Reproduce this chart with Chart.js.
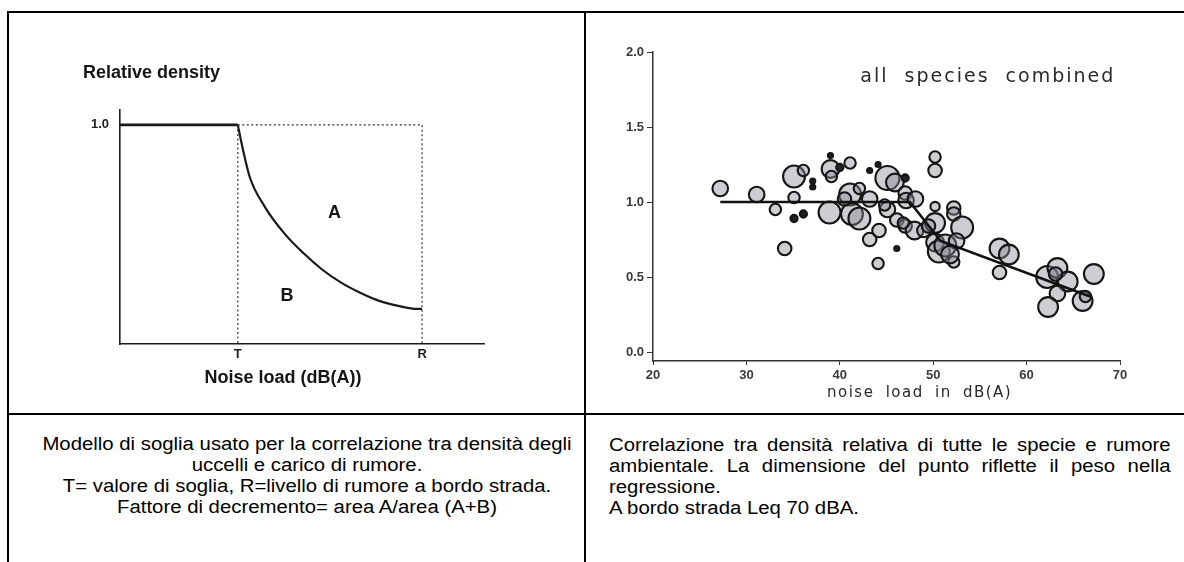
<!DOCTYPE html>
<html>
<head>
<meta charset="utf-8">
<script src="https://cdn.jsdelivr.net/npm/chart.js@4.4.1/dist/chart.umd.min.js"></script>
<style>
  body { margin: 0; background: #fff; width: 1184px; height: 562px; overflow: hidden; position: relative; font-family: Arial, "Liberation Sans", sans-serif; }
  .rule { position: absolute; background: #000; }
  canvas { position: absolute; }
  .caption { position: absolute; font-size: 18px; line-height: 21px; color: #000; }
  #capLeft { left: 69px; top: 434px; width: 476px; text-align: center; transform: scaleX(1.13); transform-origin: center top; }
  #capRight { left: 609px; top: 435px; width: 497px; text-align: justify; transform: scaleX(1.13); transform-origin: left top; }
</style>
</head>
<body>
<div class="rule" style="left:7px;top:11px;width:1177px;height:2px"></div>
<div class="rule" style="left:7px;top:11px;width:2px;height:551px"></div>
<div class="rule" style="left:584px;top:11px;width:2px;height:551px"></div>
<div class="rule" style="left:7px;top:413px;width:1177px;height:2px"></div>

<canvas id="modelChart" width="575" height="399" style="left:9px;top:14px"></canvas>
<canvas id="speciesChart" width="598" height="399" style="left:586px;top:14px"></canvas>

<div class="caption" id="capLeft">Modello di soglia usato per la correlazione tra densità degli uccelli e carico di rumore.<br>T= valore di soglia, R=livello di rumore a bordo strada.<br>Fattore di decremento= area A/area (A+B)</div>
<div class="caption" id="capRight">Correlazione tra densità relativa di tutte le specie e rumore ambientale. La dimensione del punto riflette il peso nella regressione.<br>A bordo strada Leq 70 dBA.</div>

<script>
// threshold model: flat at 1.0 up to T, then decay towards R
var thresholdT = 39;
var roadsideR = 100;
var modelMaxX = 120.5;
var decayNoise = [39, 40.5, 43, 48, 54.4, 60.7, 66.9, 73.2, 79.5, 85.8, 92.1, 98.4, 100];
var decayDensity = [1.0, 0.9, 0.76, 0.625, 0.505, 0.415, 0.34, 0.28, 0.234, 0.197, 0.174, 0.16, 0.16];

// all species combined: noise load (dB(A)), relative density, regression weight
var noiseLoad = [27.2, 31.1, 33.1, 35.1, 35.1, 36.1, 35.1, 36.1, 37.1, 37.1, 34.1, 39.0, 39.0, 39.1, 38.9, 40.0, 41.1,
  41.1, 42.1, 41.3, 42.1, 43.2, 44.1, 43.2, 43.2, 44.2, 44.1, 45.1, 45.9, 45.1, 46.1, 46.1, 47.0, 47.0, 47.1, 48.1,
  47.0, 48.0, 49.0, 50.2, 50.2, 50.2, 50.2, 50.2, 50.6, 51.3, 52.2, 52.2, 53.1, 52.2, 52.5, 57.1, 58.1, 57.1, 62.2,
  63.3, 64.4, 63.3, 62.3, 66.0, 67.2, 63.1, 46.8, 49.5, 51.8, 44.8, 40.5, 66.3];
var relDensity = [1.09, 1.05, 0.95, 1.03, 1.17, 1.21, 0.89, 0.92, 1.14, 1.10, 0.69, 1.31, 1.22, 1.17, 0.93, 1.23, 1.26,
  1.05, 1.09, 0.92, 0.89, 1.21, 1.25, 1.02, 0.75, 0.81, 0.59, 1.16, 1.13, 0.95, 0.69, 0.88, 1.16, 1.06, 1.01, 1.02,
  0.84, 0.81, 0.81, 1.30, 1.21, 0.97, 0.86, 0.73, 0.67, 0.71, 0.96, 0.92, 0.83, 0.60, 0.74, 0.69, 0.65, 0.53, 0.50,
  0.56, 0.47, 0.39, 0.30, 0.34, 0.52, 0.52, 0.86, 0.84, 0.65, 0.98, 1.02, 0.37];
var weights = [6, 6, 4, 4, 9, 4, 2, 2, 1, 1, 5, 1, 7, 4, 9, 2, 4,
  9, 4, 9, 9, 1, 1, 6, 5, 5, 4, 10, 7, 6, 1, 5, 2, 5, 6, 6,
  5, 7, 5, 4, 5, 3, 8, 7, 9, 9, 5, 5, 9, 4, 6, 8, 8, 5, 9,
  8, 8, 6, 8, 8, 8, 5, 4, 5, 7, 4, 5, 4];
var fitNoise = [27.2, 47.5, 50.8, 66.8];
var fitDensity = [1.0, 1.0, 0.74, 0.37];

var speciesTicksY = [0, 0.5, 1.0, 1.5, 2.0];

function toPoints(xs, ys) {
  return xs.map(function (x, i) { return { x: x, y: ys[i] }; });
}

// writes free text on a chart, either at data values or offset from the chart area
var textMarks = {
  id: 'textMarks',
  afterDraw: function (chart, args, opts) {
    var ctx = chart.ctx;
    var area = chart.chartArea;
    (opts.items || []).forEach(function (item) {
      var px, py;
      if (item.atX !== undefined) {
        px = chart.scales.x.getPixelForValue(item.atX);
        py = chart.scales.y.getPixelForValue(item.atY);
      } else {
        px = area.left + item.dx;
        py = (item.fromBottom ? area.bottom : area.top) + item.dy;
      }
      ctx.save();
      ctx.font = item.font;
      ctx.fillStyle = item.color || '#151515';
      ctx.textAlign = item.align || 'center';
      ctx.textBaseline = 'middle';
      if (item.spacing) ctx.letterSpacing = item.spacing;
      if (item.wordSpacing) ctx.wordSpacing = item.wordSpacing;
      ctx.fillText(item.text, px, py);
      ctx.restore();
    });
  }
};

var ink = '#1a1a1a';

new Chart(document.getElementById('modelChart'), {
  type: 'scatter',
  data: {
    datasets: [
      {
        data: [{ x: 0, y: 1 }, { x: thresholdT, y: 1 }],
        showLine: true, borderColor: ink, borderWidth: 2.6, pointRadius: 0
      },
      {
        data: toPoints(decayNoise, decayDensity),
        showLine: true, cubicInterpolationMode: 'monotone', borderColor: ink, borderWidth: 2.2, pointRadius: 0
      },
      {
        data: [{ x: thresholdT, y: 1 }, { x: roadsideR, y: 1 }, { x: roadsideR, y: 0 }],
        showLine: true, borderColor: '#333', borderWidth: 1.2, borderDash: [2, 2.5], pointRadius: 0
      },
      {
        data: [{ x: thresholdT, y: 1 }, { x: thresholdT, y: 0 }],
        showLine: true, borderColor: '#333', borderWidth: 1.2, borderDash: [2, 2.5], pointRadius: 0
      }
    ]
  },
  options: {
    responsive: false,
    animation: false,
    devicePixelRatio: 1,
    layout: { padding: { top: 96, right: 100, left: 0, bottom: 0 } },
    plugins: {
      legend: { display: false },
      tooltip: { enabled: false },
      textMarks: {
        items: [
          { text: 'Relative density', dx: -37, dy: -37, align: 'left', font: 'bold 18px Arial' },
          { text: 'Noise load (dB(A))', dx: 163, dy: 34, fromBottom: true, font: 'bold 18px Arial' },
          { text: 'A', atX: 71, atY: 0.6, font: 'bold 18px Arial' },
          { text: 'B', atX: 55.3, atY: 0.22, font: 'bold 18px Arial' }
        ]
      }
    },
    scales: {
      x: {
        type: 'linear', min: 0, max: modelMaxX,
        afterFit: function (s) { s.height = 69; },
        afterBuildTicks: function (s) { s.ticks = [{ value: thresholdT }, { value: roadsideR }]; },
        ticks: {
          padding: 3, color: '#222', font: { family: 'Arial', size: 13, weight: 'bold' },
          callback: function (v) { return v === thresholdT ? 'T' : 'R'; }
        },
        grid: { display: false, drawTicks: false },
        border: { display: true, color: ink, width: 1.6 }
      },
      y: {
        min: 0, max: 1.068,
        afterFit: function (s) { s.width = 111; },
        afterBuildTicks: function (s) { s.ticks = [{ value: 1 }]; },
        ticks: {
          padding: 11, color: '#222', font: { family: 'Arial', size: 13, weight: 'bold' },
          callback: function (v) { return v.toFixed(1); }
        },
        grid: { display: false, drawTicks: false },
        border: { display: true, color: ink, width: 1.6 }
      }
    }
  },
  plugins: [textMarks]
});

new Chart(document.getElementById('speciesChart'), {
  type: 'scatter',
  data: {
    datasets: [
      {
        data: toPoints(fitNoise, fitDensity),
        showLine: true, borderColor: '#111', borderWidth: 2.6, pointRadius: 0
      },
      {
        data: toPoints(noiseLoad, relDensity),
        pointRadius: function (c) { return 1.5 + weights[c.dataIndex] * 1.05; },
        pointBorderWidth: 2.1,
        pointBorderColor: '#151515',
        pointBackgroundColor: function (c) {
          return weights[c.dataIndex] <= 2 ? '#222' : 'rgba(135,135,148,0.42)';
        }
      }
    ]
  },
  options: {
    responsive: false,
    animation: false,
    devicePixelRatio: 1,
    layout: { padding: { top: 38, right: 64, left: 0, bottom: 0 } },
    plugins: {
      legend: { display: false },
      tooltip: { enabled: false },
      textMarks: {
        items: [
          { text: 'all species combined', atX: 42.2, atY: 1.83, align: 'left', font: '19px "DejaVu Sans"', color: '#2a2a2a', spacing: '2px', wordSpacing: '8px' },
          { text: 'noise load in dB(A)', dx: 174, dy: 32, fromBottom: true, align: 'left', font: '15px "DejaVu Sans"', color: '#2a2a2a', spacing: '1.5px', wordSpacing: '5px' }
        ]
      }
    },
    scales: {
      x: {
        type: 'linear', min: 20, max: 70,
        afterFit: function (s) { s.height = 52; },
        ticks: { stepSize: 10, padding: 3, color: '#3a3a3a', font: { family: 'Arial', size: 13, weight: 'bold' } },
        grid: { drawOnChartArea: false, drawTicks: true, tickLength: 4, color: '#333' },
        border: { display: true, color: '#333', width: 1.5 }
      },
      y: {
        min: -0.06, max: 2.0,
        afterFit: function (s) { s.width = 67; },
        afterBuildTicks: function (s) { s.ticks = speciesTicksY.map(function (v) { return { value: v }; }); },
        ticks: {
          padding: 3, color: '#3a3a3a', font: { family: 'Arial', size: 13, weight: 'bold' },
          callback: function (v) { return v.toFixed(1); }
        },
        grid: { drawOnChartArea: false, drawTicks: true, tickLength: 6, color: '#333' },
        border: { display: true, color: '#333', width: 1.5 }
      }
    }
  },
  plugins: [textMarks]
});
</script>
</body>
</html>
